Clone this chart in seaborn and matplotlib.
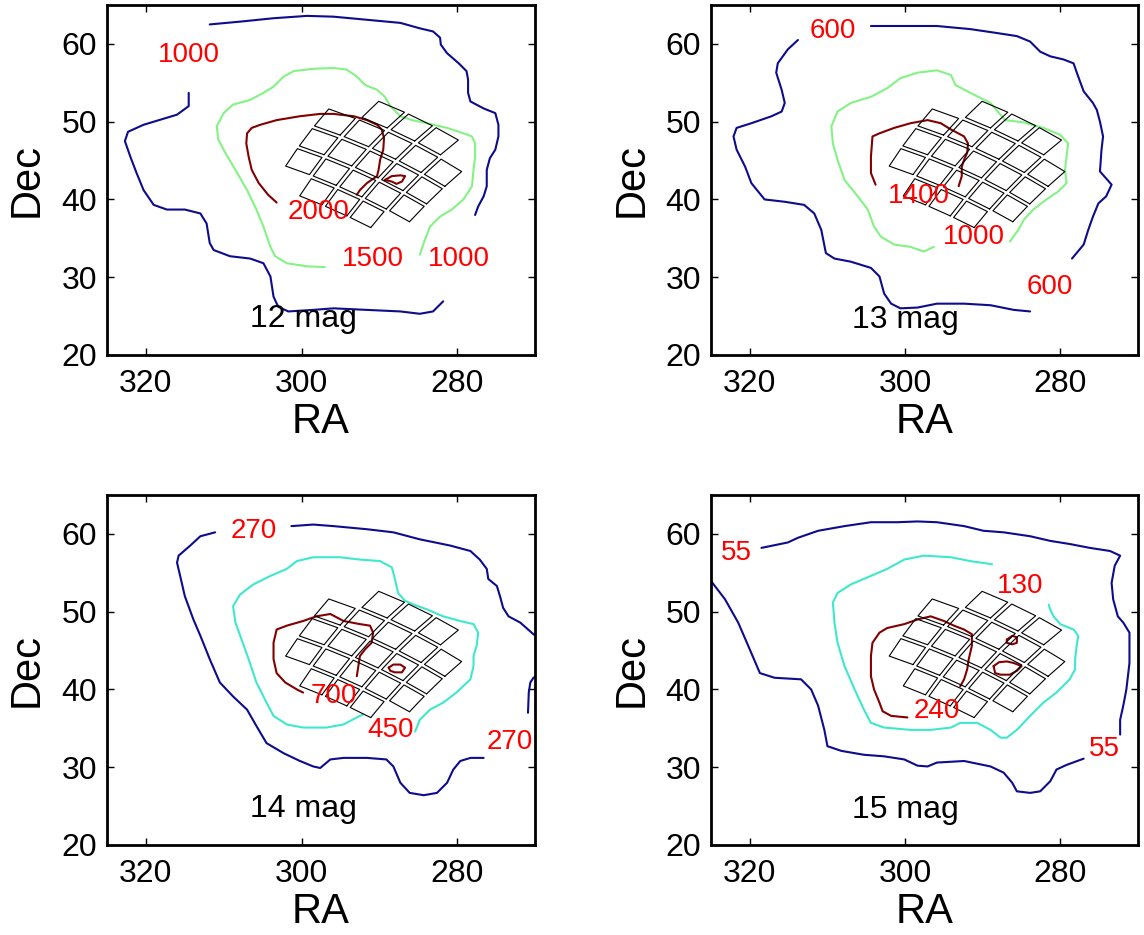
import numpy as np
import pandas as pd
import matplotlib
matplotlib.use("Agg")
import matplotlib.pyplot as plt
import seaborn as sns

# ---------------------------------------------------------------- data
# axis settings
ra_ticks = [320, 300, 280]
dec_ticks = [20, 30, 40, 50, 60]
ra_lim = (325, 270)
dec_lim = (20, 65)

# ---- 12 mag panel (contour levels 1000 / 1500 / 2000)
m12_1000a_ra = [314.5, 314.5, 316.0, 320.3, 322.3, 322.7, 322.0, 321.2, 320.3, 319.0, 317.3, 315.0, 313.0, 312.2, 311.8, 311.3, 309.2, 306.6, 304.9, 304.0, 303.6, 303.0, 301.7, 298.5, 295.9, 291.6, 287.3, 284.8, 283.1, 281.8]
m12_1000a_dec = [53.7, 52.0, 50.9, 49.6, 48.7, 47.5, 45.5, 43.4, 41.2, 39.3, 38.7, 38.7, 38.2, 36.9, 34.4, 33.5, 32.7, 32.4, 31.8, 30.1, 27.5, 26.2, 25.6, 25.8, 26.0, 25.8, 25.6, 25.3, 25.6, 26.9]
m12_1000b_ra = [311.8, 307.5, 303.6, 299.3, 295.9, 291.6, 287.3, 284.8, 283.1, 282.2, 282.1, 281.3, 279.8, 278.8, 278.6, 278.6, 278.3, 276.6, 275.1, 274.7, 274.7, 275.1, 275.8, 276.2, 276.2, 276.6, 277.3, 277.7]
m12_1000b_dec = [62.5, 62.9, 63.3, 63.6, 63.5, 63.1, 62.7, 62.0, 61.6, 60.8, 59.9, 58.8, 57.5, 56.5, 55.4, 53.7, 52.6, 51.7, 51.1, 49.6, 48.1, 46.4, 45.3, 43.8, 41.7, 40.4, 39.1, 38.0]
m12_1500_ra = [297.0, 299.3, 301.9, 303.4, 304.0, 304.9, 305.8, 307.0, 308.5, 309.8, 310.7, 310.9, 310.0, 308.8, 306.6, 304.9, 303.6, 302.3, 301.0, 298.5, 295.9, 294.2, 292.9, 291.8, 290.3, 289.3, 288.6, 287.3, 285.8, 283.9, 281.3, 279.2, 278.1, 277.7, 277.7, 277.9, 278.1, 279.2, 280.7, 282.2, 283.5, 284.3, 284.8]
m12_1500_dec = [31.3, 31.4, 31.8, 32.7, 33.9, 36.5, 38.7, 41.2, 43.8, 46.0, 47.7, 49.4, 51.1, 52.2, 52.8, 53.7, 54.5, 55.8, 56.5, 56.8, 56.9, 56.7, 55.8, 54.7, 54.1, 53.2, 52.0, 50.7, 50.2, 49.8, 49.2, 48.5, 48.1, 47.2, 45.5, 43.8, 41.7, 40.0, 38.7, 37.8, 36.5, 34.4, 32.9]
m12_2000a_ra = [303.2, 304.3, 305.5, 306.4, 306.8, 307.1, 307.0, 306.4, 305.3, 303.2, 300.2, 297.6, 295.9, 293.3, 291.6, 290.3, 289.7, 289.4, 289.5, 289.9, 290.1, 290.3, 291.6, 292.5, 292.9]
m12_2000a_dec = [39.6, 40.6, 42.1, 43.8, 45.5, 47.2, 48.5, 49.2, 49.6, 50.2, 50.7, 51.0, 51.0, 50.7, 50.2, 49.6, 49.0, 47.9, 46.4, 45.1, 43.8, 43.0, 42.1, 41.2, 40.6]
m12_2000b_ra = [289.3, 288.4, 287.3, 286.7, 287.1, 287.8, 288.4, 289.3]
m12_2000b_dec = [42.5, 43.0, 43.1, 43.0, 42.3, 42.0, 42.3, 42.5]
m12_label_text = ["1000", "2000", "1500", "1000"]
m12_label_ra = [314.5, 297.8, 290.8, 279.8]
m12_label_dec = [58.6, 38.4, 32.4, 32.4]

# ---- 13 mag panel (600 / 1000 / 1400)
m13_600a_ra = [313.8, 315.1, 316.4, 316.6, 315.9, 315.5, 315.9, 317.2, 319.8, 321.7, 322.1, 321.7, 320.6, 319.8, 318.1, 315.5, 313.0, 311.7, 310.8, 310.2, 309.1, 307.0, 304.4, 303.3, 302.7, 301.8, 300.6, 298.4, 295.9, 292.4, 289.0, 286.0, 283.9]
m13_600a_dec = [60.5, 59.3, 57.5, 56.3, 54.1, 52.4, 51.3, 50.7, 49.8, 49.2, 48.1, 46.4, 44.2, 42.1, 40.0, 39.7, 39.3, 38.2, 36.1, 33.1, 32.4, 32.0, 31.2, 30.1, 27.9, 26.6, 26.0, 26.1, 26.6, 26.6, 26.4, 25.8, 25.6]
m13_600b_ra = [304.4, 300.1, 295.9, 291.6, 288.2, 285.6, 283.9, 282.6, 281.3, 279.6, 278.3, 277.7, 277.0, 275.8, 275.3, 274.9, 274.5, 274.7, 274.9, 274.1, 273.4, 274.1, 275.1, 275.8, 276.4, 277.0, 278.5]
m13_600b_dec = [62.3, 62.3, 62.3, 61.9, 61.4, 61.0, 60.3, 59.0, 58.4, 58.0, 57.5, 55.8, 53.9, 52.4, 51.5, 50.0, 48.1, 46.4, 43.6, 42.7, 41.9, 40.4, 39.5, 37.8, 36.1, 34.2, 32.4]
m13_1000_ra = [296.3, 297.6, 299.3, 301.4, 303.1, 304.0, 304.8, 306.1, 307.8, 308.7, 309.3, 309.5, 308.7, 307.0, 304.4, 302.3, 300.6, 298.4, 295.9, 294.1, 293.5, 291.2, 289.0, 287.9, 287.1, 284.7, 282.2, 280.0, 279.0, 279.2, 279.4, 279.2, 280.3, 281.8, 283.5, 284.7, 285.4, 286.5]
m13_1000_dec = [33.9, 33.3, 33.9, 34.2, 35.2, 36.5, 38.7, 40.4, 42.5, 45.1, 47.2, 49.4, 51.3, 52.4, 53.2, 54.3, 55.6, 56.3, 56.6, 56.0, 54.7, 53.5, 52.4, 51.1, 50.2, 49.9, 49.2, 48.3, 47.2, 45.5, 43.8, 42.1, 41.0, 40.0, 38.7, 37.4, 36.1, 34.6]
m13_1400_ra = [303.8, 304.4, 304.4, 304.2, 303.3, 301.4, 299.3, 297.1, 295.4, 294.1, 292.4, 291.9, 292.0, 292.4, 292.7, 292.7, 293.1]
m13_1400_dec = [41.9, 43.4, 45.5, 48.1, 48.5, 49.2, 49.8, 50.2, 49.8, 49.0, 48.1, 47.2, 46.0, 45.1, 44.2, 43.0, 41.7]
m13_label_text = ["600", "600", "1000", "1400"]
m13_label_ra = [309.3, 281.3, 291.2, 298.2]
m13_label_dec = [61.6, 28.8, 35.2, 40.4]

# ---- 14 mag panel (270 / 450 / 700)
m14_270a_ra = [311.1, 313.0, 314.3, 315.8, 316.0, 315.6, 315.0, 313.9, 313.0, 311.8, 310.5, 308.8, 307.0, 305.8, 304.5, 302.3, 300.2, 298.5, 297.6, 296.3, 294.6, 291.6, 289.1, 288.2, 287.3, 286.1, 284.3, 282.6, 281.3, 280.5, 279.6, 278.3, 276.6]
m14_270a_dec = [60.2, 59.7, 58.5, 57.2, 56.3, 54.6, 52.0, 49.0, 46.9, 43.9, 40.9, 39.1, 37.4, 35.3, 33.1, 31.8, 30.8, 30.1, 29.9, 31.0, 31.2, 31.2, 31.0, 30.1, 28.0, 26.7, 26.4, 26.7, 28.0, 29.7, 30.8, 31.2, 31.2]
m14_270b_ra = [301.3, 298.5, 295.9, 291.6, 288.2, 284.8, 280.9, 278.3, 277.1, 276.2, 276.0, 274.9, 274.5, 274.1, 273.4, 271.9, 270.2, 269.3]
m14_270b_dec = [61.0, 61.2, 61.0, 60.6, 60.2, 59.3, 58.5, 57.8, 56.7, 55.5, 54.2, 53.3, 52.0, 50.5, 49.4, 48.6, 47.1, 46.4]
m14_270c_ra = [269.3, 270.2, 270.6, 270.8, 270.9]
m14_270c_dec = [42.1, 41.5, 40.9, 39.6, 37.0]
m14_450_ra = [285.4, 284.8, 283.5, 281.8, 280.1, 278.3, 277.9, 277.9, 277.5, 277.3, 277.9, 279.6, 281.8, 283.9, 285.6, 286.7, 287.6, 288.0, 288.4, 289.9, 292.5, 295.1, 298.5, 300.6, 301.9, 304.0, 306.2, 307.9, 308.8, 308.5, 307.7, 306.8, 305.8, 304.5, 303.6, 301.9, 299.8, 296.8, 294.6, 292.9, 292.1]
m14_450_dec = [34.6, 36.1, 37.4, 38.3, 39.6, 41.3, 43.0, 44.3, 45.6, 47.3, 48.4, 48.8, 49.4, 50.3, 50.9, 51.4, 52.4, 54.2, 55.7, 56.5, 56.7, 57.0, 57.0, 56.5, 55.5, 54.6, 53.5, 52.2, 50.7, 48.6, 46.4, 43.9, 40.9, 38.3, 36.6, 35.5, 35.1, 35.1, 35.5, 36.4, 36.8]
m14_700a_ra = [299.8, 300.6, 302.1, 303.2, 303.6, 303.6, 303.2, 301.9, 299.8, 298.1, 296.3, 294.6, 292.5, 291.2, 290.8, 291.0, 291.8, 292.5, 292.7, 292.9]
m14_700a_dec = [39.6, 40.0, 40.9, 42.1, 43.9, 46.0, 47.7, 48.2, 48.8, 49.4, 49.7, 48.8, 48.4, 48.2, 47.3, 46.0, 45.2, 44.3, 43.0, 41.7]
m14_700b_ra = [288.8, 288.2, 287.3, 286.7, 287.1, 288.0, 288.6, 288.8]
m14_700b_dec = [42.8, 43.2, 43.2, 42.8, 42.2, 42.2, 42.4, 42.8]
m14_label_text = ["270", "270", "700", "450"]
m14_label_ra = [306.2, 273.2, 295.9, 288.6]
m14_label_dec = [60.4, 33.3, 39.1, 34.8]

# ---- 15 mag panel (55 / 130 / 240)
m15_55a_ra = [318.5, 315.1, 313.8, 311.2, 307.8, 304.4, 301.0, 298.4, 295.9, 292.4, 289.9, 287.3, 283.9, 281.3, 278.8, 276.2, 273.6, 272.3, 273.0, 273.4, 273.2, 272.6, 271.9, 271.1, 271.1, 271.5, 271.9, 272.3, 272.3]
m15_55a_dec = [58.2, 58.9, 59.5, 60.4, 61.0, 61.5, 61.5, 61.6, 61.5, 61.0, 60.4, 60.2, 59.7, 59.1, 58.7, 58.2, 57.8, 57.2, 55.9, 53.7, 51.6, 49.4, 48.6, 47.3, 43.4, 40.0, 37.9, 36.1, 34.2]
m15_55b_ra = [325.5, 323.2, 321.5, 320.2, 318.7, 316.8, 313.4, 312.1, 311.2, 310.4, 310.0, 308.2, 305.3, 302.7, 300.1, 298.4, 297.1, 295.9, 292.4, 289.0, 287.3, 286.2, 285.6, 283.9, 282.6, 281.3, 280.5, 279.2, 277.0]
m15_55b_dec = [54.6, 51.6, 48.6, 45.6, 42.1, 41.5, 41.3, 40.0, 37.9, 34.8, 32.7, 32.1, 31.6, 31.4, 31.0, 30.2, 30.1, 30.6, 30.8, 30.1, 29.3, 28.0, 26.9, 26.7, 26.9, 28.2, 29.7, 30.3, 31.1]
m15_130_ra = [288.8, 291.6, 294.1, 297.6, 300.1, 302.3, 304.4, 307.0, 308.7, 309.3, 309.1, 308.7, 307.8, 306.5, 305.3, 304.4, 302.7, 299.3, 296.7, 294.1, 292.9, 290.7, 289.0, 287.7, 286.9, 285.6, 283.9, 282.2, 280.5, 278.8, 278.1, 278.1, 277.9, 277.7, 278.3, 280.0, 280.9, 281.3, 281.5]
m15_130_dec = [56.1, 56.5, 57.0, 57.2, 56.7, 55.5, 54.6, 53.5, 52.4, 51.2, 48.6, 46.0, 43.0, 40.0, 37.4, 35.7, 35.1, 34.8, 34.8, 35.1, 35.7, 35.7, 34.8, 33.8, 33.8, 34.8, 36.6, 38.3, 39.6, 41.3, 42.6, 43.9, 45.6, 46.9, 47.7, 48.4, 49.4, 50.3, 50.9]
m15_240a_ra = [299.7, 301.8, 302.9, 303.3, 304.0, 304.4, 304.4, 304.2, 303.3, 302.3, 300.1, 298.4, 296.7, 295.0, 293.7, 292.4, 291.4, 291.4, 291.8, 292.0, 292.4, 292.9]
m15_240a_dec = [36.4, 36.6, 37.2, 38.3, 40.0, 41.7, 44.3, 46.0, 47.3, 47.9, 48.4, 49.0, 49.4, 48.8, 48.2, 47.7, 47.1, 45.6, 43.9, 42.6, 41.3, 40.4]
m15_240b_ra = [286.9, 286.2, 285.6, 285.6, 286.2, 286.9, 286.9]
m15_240b_dec = [46.4, 46.9, 46.7, 46.0, 45.8, 46.0, 46.4]
m15_240c_ra = [288.6, 287.9, 286.9, 286.0, 285.0, 285.6, 286.5, 287.7, 288.4, 288.6]
m15_240c_dec = [43.0, 43.5, 43.6, 43.4, 43.0, 42.4, 41.9, 41.9, 42.1, 43.0]
m15_label_text = ["55", "130", "240", "55"]
m15_label_ra = [321.7, 285.2, 295.9, 274.3]
m15_label_dec = [57.6, 53.3, 37.2, 32.3]

# panel titles (magnitude) and their positions
mag_text = ["12 mag", "13 mag", "14 mag", "15 mag"]
mag_ra = [299.8, 299.9, 299.8, 299.9]
mag_dec = [24.6, 24.5, 24.6, 24.5]

# Kepler field of view: 21 modules (5x5 grid without corners)
fov_ra0 = 290.667
fov_dec0 = 44.5
fov_rotation_deg = 33.0
fov_module_pitch = 2.9
fov_module_size = 2.5

# colours (low / mid / high contour level)
c_low = "#0c0c8c"
c_mid_bright = "#84f284"
c_mid_faint = "#3ee8cc"
c_high = "#820000"


# ---------------------------------------------------------------- helpers
def segs(*pairs):
    rows = []
    for k, (level, ra, dec) in enumerate(pairs):
        for r, d in zip(ra, dec):
            rows.append({"ra": r, "dec": d, "level": level, "seg": k})
    return pd.DataFrame(rows)


def fov_frame():
    th = np.deg2rad(fov_rotation_deg)
    u = np.array([np.cos(th), np.sin(th)])
    v = np.array([-np.sin(th), np.cos(th)])
    h = fov_module_size / 2.0
    d0 = np.deg2rad(fov_dec0)
    rows = []
    mid = 0
    for row in range(-2, 3):
        for col in range(-2, 3):
            if abs(row) == 2 and abs(col) == 2:
                continue
            c = -fov_module_pitch * (col * u + row * v)
            corners = [c - h * u - h * v, c + h * u - h * v,
                       c + h * u + h * v, c - h * u + h * v,
                       c - h * u - h * v]
            for xi, eta in corners:
                xr, er = np.deg2rad(xi), np.deg2rad(eta)
                den = np.cos(d0) - er * np.sin(d0)
                ra = fov_ra0 + np.rad2deg(np.arctan2(xr, den))
                dec = np.rad2deg(np.arctan2(np.sin(d0) + er * np.cos(d0),
                                            np.hypot(xr, den)))
                rows.append({"ra": ra, "dec": dec, "mod": mid})
            mid += 1
    return pd.DataFrame(rows)


panels = [
    (segs(("lo", m12_1000a_ra, m12_1000a_dec), ("lo", m12_1000b_ra, m12_1000b_dec),
          ("mid", m12_1500_ra, m12_1500_dec), ("hi", m12_2000a_ra, m12_2000a_dec),
          ("hi", m12_2000b_ra, m12_2000b_dec)),
     c_mid_bright, m12_label_text, m12_label_ra, m12_label_dec),
    (segs(("lo", m13_600a_ra, m13_600a_dec), ("lo", m13_600b_ra, m13_600b_dec),
          ("mid", m13_1000_ra, m13_1000_dec), ("hi", m13_1400_ra, m13_1400_dec)),
     c_mid_bright, m13_label_text, m13_label_ra, m13_label_dec),
    (segs(("lo", m14_270a_ra, m14_270a_dec), ("lo", m14_270b_ra, m14_270b_dec),
          ("lo", m14_270c_ra, m14_270c_dec), ("mid", m14_450_ra, m14_450_dec),
          ("hi", m14_700a_ra, m14_700a_dec), ("hi", m14_700b_ra, m14_700b_dec)),
     c_mid_faint, m14_label_text, m14_label_ra, m14_label_dec),
    (segs(("lo", m15_55a_ra, m15_55a_dec), ("lo", m15_55b_ra, m15_55b_dec),
          ("mid", m15_130_ra, m15_130_dec), ("hi", m15_240a_ra, m15_240a_dec),
          ("hi", m15_240b_ra, m15_240b_dec), ("hi", m15_240c_ra, m15_240c_dec)),
     c_mid_faint, m15_label_text, m15_label_ra, m15_label_dec),
]

# ---------------------------------------------------------------- plot
sns.set_theme(style="ticks")
plt.rcParams["font.family"] = ["Liberation Sans", "DejaVu Sans"]

fig = plt.figure(figsize=(11.44, 9.35), dpi=100)
W, H = 1144.0, 935.0
boxes = [(107, 5, 428, 350), (711, 5, 427, 350),
         (107, 495, 428, 350), (711, 495, 427, 350)]

fov = fov_frame()

for i, ((df, mid_col, ltxt, lra, ldec), (x0, y0, w, h)) in enumerate(zip(panels, boxes)):
    ax = fig.add_axes([x0 / W, (H - y0 - h) / H, w / W, h / H])
    pal = {"lo": c_low, "mid": mid_col, "hi": c_high}
    sns.lineplot(data=df, x="ra", y="dec", hue="level", units="seg",
                 estimator=None, sort=False, palette=pal, linewidth=1.5,
                 legend=False, ax=ax)
    sns.lineplot(data=fov, x="ra", y="dec", units="mod", estimator=None,
                 sort=False, color="black", linewidth=0.8, legend=False, ax=ax)
    for t, r, d in zip(ltxt, lra, ldec):
        ax.text(r, d, t, color="#ff0000", fontsize=20, ha="center", va="center")
    ax.text(mag_ra[i], mag_dec[i], mag_text[i], color="black", fontsize=23,
            ha="center", va="center")

    ax.set_xlim(*ra_lim)
    ax.set_ylim(*dec_lim)
    ax.set_xticks(ra_ticks)
    ax.set_yticks(dec_ticks)
    ax.tick_params(direction="in", length=5, width=1.0, labelsize=23,
                   top=True, right=True, pad=7, color="black",
                   labelcolor="black")
    ax.tick_params(axis="x", pad=10)
    for sp in ax.spines.values():
        sp.set_linewidth(2.0)
        sp.set_color("black")
    ax.set_xlabel("RA", fontsize=30, color="black")
    ax.set_ylabel("Dec", fontsize=30, color="black")
    ax.xaxis.set_label_coords(0.5, -0.135)
    ax.yaxis.set_label_coords(-0.14, 0.5)

fig.savefig("out.png", dpi=100, facecolor="white")
